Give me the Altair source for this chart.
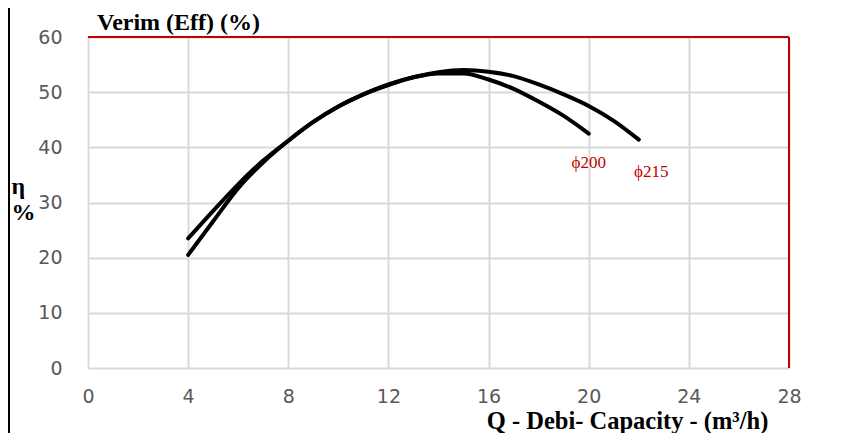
import altair as alt
import pandas as pd

# --- data ---
q200 = [4, 5, 6, 7, 8, 9, 10, 11, 12, 13, 14, 15, 16, 17, 18, 19, 20]
eff200 = [23.5, 28.5, 33.3, 37.6, 41.2, 44.6, 47.4, 49.6, 51.4, 52.7, 53.4, 53.4, 52.3, 50.6, 48.3, 45.7, 42.5]
q215 = [4, 5, 6, 7, 8, 9, 10, 11, 12, 13, 14, 15, 16, 17, 18, 19, 20, 21, 22]
eff215 = [20.5, 26.6, 32.6, 37.3, 41.2, 44.6, 47.4, 49.6, 51.3, 52.7, 53.6, 54.0, 53.7, 52.9, 51.4, 49.6, 47.5, 44.8, 41.4]

label_text = ["ϕ200", "ϕ215"]
label_q = [20.0, 22.5]
label_eta = [36.3, 34.6]

chart_title = "Verim (Eff) (%)"

x_ticks = [0, 4, 8, 12, 16, 20, 24, 28]
y_ticks = [0, 10, 20, 30, 40, 50, 60]

curves = pd.DataFrame(
    {"Q": q200 + q215,
     "eta": eff200 + eff215,
     "d": ["ϕ200"] * len(q200) + ["ϕ215"] * len(q215)}
)
labels = pd.DataFrame({"t": label_text, "Q": label_q, "eta": label_eta})

serif = "Liberation Serif"
red = "#c00000"

xs = alt.Scale(domain=[0, 28], nice=False, zero=False)
ys = alt.Scale(domain=[0, 60], nice=False)

x_axis = alt.Axis(
    values=x_ticks, grid=True, gridColor="#d9d9d9", gridWidth=2,
    domain=False, ticks=False, labelPadding=19, labelFlush=False,
    labelFont="DejaVu Sans", labelFontSize=19, labelColor="#595959",
    title="Q - Debi- Capacity - (m³/h)", titleFont=serif, titleFontSize=24.5,
    titleFontWeight="bold", titleColor="#000000", titleX=539, titleY=60,
    titleBaseline="alphabetic", titleAlign="center",
)
y_axis = alt.Axis(
    values=y_ticks, grid=True, gridColor="#d9d9d9", gridWidth=2,
    domain=False, ticks=False, labelPadding=26,
    labelFont="DejaVu Sans", labelFontSize=19, labelColor="#595959",
    title=["η", "%"], titleFont=serif, titleFontSize=24, titleFontWeight="bold",
    titleColor="#000000", titleAngle=0, titleX=-77, titleY=156,
    titleAlign="left", titleBaseline="alphabetic", titleLineHeight=26,
)

base_grid = alt.Chart(curves).mark_line(opacity=0).encode(
    x=alt.X("Q:Q", scale=xs, axis=x_axis),
    y=alt.Y("eta:Q", scale=ys, axis=y_axis),
)

lines = alt.Chart(curves).mark_line(
    color="#000000", strokeWidth=4, strokeCap="round", interpolate="monotone"
).encode(
    x=alt.X("Q:Q", scale=xs),
    y=alt.Y("eta:Q", scale=ys),
    detail="d:N",
)

text = alt.Chart(labels).mark_text(
    font=serif, fontSize=17, color=red, align="center", baseline="alphabetic"
).encode(
    x=alt.X("Q:Q", scale=xs),
    y=alt.Y("eta:Q", scale=ys),
    text="t:N",
)

title_mark = alt.Chart(pd.DataFrame({"t": [chart_title]})).mark_text(
    font=serif, fontSize=24, fontWeight="bold", color="#000000",
    align="left", baseline="alphabetic"
).encode(x=alt.value(9), y=alt.value(-7), text="t:N")

border_top = alt.Chart(pd.DataFrame({"a": [0]})).mark_rule(color=red, strokeWidth=2).encode(
    x=alt.datum(0, scale=xs), x2=alt.datum(28), y=alt.datum(60, scale=ys)
)
border_right = alt.Chart(pd.DataFrame({"a": [0]})).mark_rule(color=red, strokeWidth=2).encode(
    x=alt.datum(28, scale=xs), y=alt.datum(0, scale=ys), y2=alt.datum(60)
)
left_line = alt.Chart(pd.DataFrame({"a": [0]})).mark_rule(color="#000000", strokeWidth=2).encode(
    x=alt.value(-79), y=alt.value(-40), y2=alt.value(420)
)

chart = alt.layer(
    base_grid, border_top, border_right, lines, text, title_mark, left_line
).properties(
    width=701, height=331,
    autosize=alt.AutoSizeParams(type="none"),
    padding={"left": 80, "top": 29, "right": 30, "bottom": 65},
).configure_view(stroke=None)

chart.save("out.html", embed_options={"renderer": "svg", "actions": False})
